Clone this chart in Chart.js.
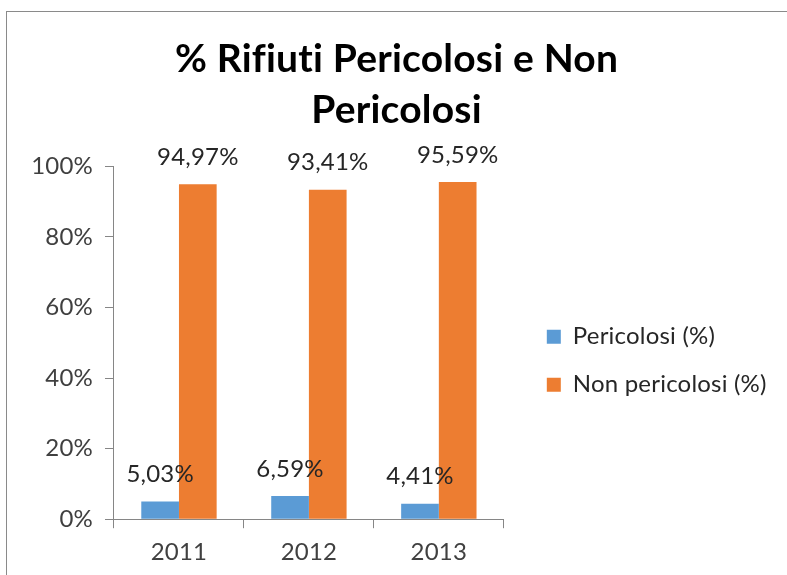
<!DOCTYPE html>
<html>
<head>
<meta charset="utf-8">
<script src="https://cdn.jsdelivr.net/npm/chart.js@4"></script>
<style>
  html, body { margin: 0; padding: 0; background: #fff; }
  #wrap { position: relative; width: 787px; height: 575px; overflow: hidden; }
  #frame { position: absolute; left: 6px; top: 11px; width: 900px; height: 700px; border-left: 1px solid #8a8a8a; border-top: 1px solid #8a8a8a; }
  canvas { position: absolute; left: 0; top: 0; }
</style>
</head>
<body>
<div id="wrap">
  <div id="frame"></div>
  <canvas id="C" width="787" height="575"></canvas>
</div>
<script>
const years = ["2011", "2012", "2013"];
const pericolosi = [5.03, 6.59, 4.41];
const nonPericolosi = [94.97, 93.41, 95.59];
const yTicks = [0, 20, 40, 60, 80, 100];

const fmt = v => v.toFixed(2).replace(".", ",") + "%";

// niente legature (fi) come in Calibri
const noLigatures = {
  id: "noLigatures",
  beforeDraw(chart) { chart.ctx.letterSpacing = "0.2px"; }
};

// etichette sopra le barre, come in Excel
const valueLabels = {
  id: "valueLabels",
  afterDatasetsDraw(chart) {
    const ctx = chart.ctx;
    ctx.save();
    ctx.font = "24px Lato";
    ctx.fillStyle = "#262626";
    ctx.textAlign = "center";
    ctx.textBaseline = "middle";
    chart.data.datasets.forEach((ds, i) => {
      chart.getDatasetMeta(i).data.forEach((bar, j) => {
        ctx.fillText(fmt(ds.data[j]), bar.x, bar.y - 27);
      });
    });
    ctx.restore();
  }
};

let chartId = document.getElementById("C").getContext("2d");
let chart = new Chart(chartId, {
  type: "bar",
  data: {
    labels: years,
    datasets: [
      { label: "Pericolosi (%)", data: pericolosi, backgroundColor: "#5B9BD5" },
      { label: "Non pericolosi (%)", data: nonPericolosi, backgroundColor: "#ED7D31" },
    ],
  },
  options: {
    responsive: false,
    animation: false,
    layout: { padding: { left: 20, right: 14, top: 34, bottom: -2 } },
    datasets: { bar: { categoryPercentage: 0.58, barPercentage: 1 } },
    scales: {
      x: {
        grid: { offset: true, drawOnChartArea: false, tickLength: 9, color: "#868686" },
        border: { color: "#868686" },
        ticks: { color: "#404040", font: { family: "Lato", size: 24 }, padding: 10 },
      },
      y: {
        min: 0,
        max: 100,
        afterBuildTicks: axis => { axis.ticks = yTicks.map(v => ({ value: v })); },
        grid: { drawOnChartArea: false, tickLength: 9, color: "#868686" },
        border: { color: "#868686" },
        ticks: { color: "#404040", font: { family: "Lato", size: 24 }, padding: 12, callback: v => v + "%" },
      },
      // spazio vuoto tra area del grafico e legenda
      gap: {
        position: "right",
        grid: { display: false },
        border: { display: false },
        ticks: { display: false },
        afterFit: s => { s.width = 19; },
      },
    },
    plugins: {
      title: {
        display: true,
        text: ["% Rifiuti Pericolosi e Non", "Pericolosi"],
        color: "#000",
        font: { family: "Lato", size: 39, weight: "bold", lineHeight: 1.3 },
        padding: { top: 0, bottom: 31 },
      },
      legend: {
        position: "right",
        maxWidth: 320,
        title: { display: true, text: "", font: { size: 12 }, padding: { top: 48, bottom: 48 } },
        labels: {
          boxWidth: 14,
          boxHeight: 14,
          padding: 24,
          color: "#262626",
          font: { family: "Lato", size: 24 },
        },
      },
      tooltip: { enabled: false },
    },
  },
  plugins: [noLigatures, valueLabels],
});
</script>
</body>
</html>
